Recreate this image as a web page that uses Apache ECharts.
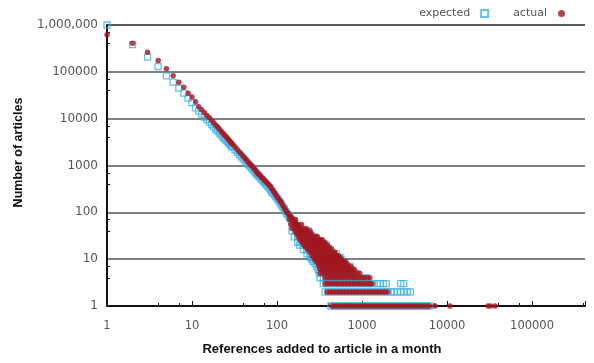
<!DOCTYPE html>
<html>
  <head>
    <meta charset="UTF-8" />
    <title>References added to article in a month</title>
    <script src="https://cdn.jsdelivr.net/npm/echarts@6.0.0/dist/echarts.min.js"></script>
    <style>
      html, body { margin: 0; padding: 0; background: #fff; }
      #main { width: 594px; height: 363px; }
    </style>
  </head>
  <body>
    <div id="main"></div>
    <script>
      // tick labels
      const xTickLabels = ['1', '10', '100', '1000', '10000', '100000']
      const yTickLabels = ['1', '10', '100', '1000', '10000', '100000', '1,000,000']

      // main diagonal, [references, articles]
      const expectedCurve = [
        [1, 1000000], [2, 380000], [3, 206000], [4, 130000], [5, 82000], [6, 60000],
        [7, 45000], [8, 35000], [9, 27500], [10, 22000], [11, 17000], [12, 14500],
        [13, 12500], [14, 10800], [15, 9500], [16, 8400], [17, 7500], [18, 6700],
        [19, 6000], [20, 5400], [21, 4900], [22, 4500], [23, 4100], [24, 3800],
        [25, 3500], [26, 3250], [27, 3000], [28, 2800], [29, 2600], [30, 2450],
        [32, 2150], [34, 1900], [36, 1700], [38, 1530], [40, 1380], [42, 1260],
        [44, 1140], [46, 1040], [48, 960], [50, 880], [52, 820], [54, 760],
        [56, 700], [58, 650], [60, 610], [62, 570], [65, 520], [67, 490],
        [70, 450], [72, 420], [75, 385], [78, 360], [81, 335], [84, 300],
        [87, 275], [90, 255], [94, 235], [97, 215], [101, 195], [105, 175],
        [109, 160], [113, 145], [117, 130], [122, 118], [126, 105], [131, 95],
        [135, 88], [140, 80], [145, 74], [150, 68], [155, 63], [160, 58],
        [166, 53], [172, 49], [178, 45], [185, 41], [192, 38], [200, 35],
        [207, 32], [215, 29]
      ]
      const actualCurve = [
        [1, 620000], [2, 410000], [3, 263000], [4, 174000], [5, 116000], [6, 82000],
        [7, 60000], [8, 47000], [9, 35000], [10, 29000], [11, 23000], [12, 18000],
        [13, 15500], [14, 13300], [15, 11700], [16, 10400], [17, 9200], [18, 8200],
        [19, 7300], [20, 6600], [21, 6000], [22, 5400], [23, 4950], [24, 4500],
        [25, 4150], [26, 3850], [27, 3550], [28, 3300], [29, 3050], [30, 2850],
        [32, 2500], [34, 2200], [36, 1950], [38, 1750], [40, 1580], [42, 1430],
        [44, 1290], [46, 1180], [48, 1080], [50, 1000], [52, 920], [54, 850],
        [56, 780], [58, 720], [60, 670], [62, 630], [65, 575], [67, 540],
        [70, 500], [72, 470], [75, 440], [78, 410], [81, 380], [84, 350],
        [87, 315], [90, 288], [94, 260], [97, 235], [101, 210], [105, 190],
        [109, 175], [113, 160], [117, 140], [122, 125], [126, 112], [131, 100],
        [135, 93], [140, 86], [145, 80], [150, 74], [155, 68], [160, 63],
        [166, 58], [172, 53], [178, 49], [185, 45], [192, 41], [200, 38],
        [207, 35], [215, 32]
      ]

      // scattered tail: article counts and the reference counts seen at each
      const expectedTailCounts = [40, 30, 23, 20, 16, 13, 11, 10, 9, 8, 7, 6, 5, 4, 3, 2, 1]
      const expectedTailX = [
        [150, 165, 180, 197, 215, 235],
        [160, 175, 192, 210, 230, 252, 276],
        [175, 192, 210, 230, 252, 276, 302, 330],
        [185, 203, 222, 243, 266, 291, 318, 348, 380],
        [205, 224, 245, 268, 293, 320, 350, 383, 419],
        [225, 246, 269, 294, 321, 351, 384, 420, 459, 502],
        [245, 268, 293, 320, 350, 383, 419, 458, 500, 547],
        [255, 279, 305, 333, 364, 398, 435, 476, 520, 569],
        [265, 290, 317, 346, 378, 413, 452, 494, 540, 590],
        [280, 306, 334, 365, 399, 436, 477, 521, 570, 623],
        [295, 322, 352, 385, 421, 460, 503, 550, 601, 657, 718],
        [305, 333, 364, 398, 435, 476, 520, 568, 621, 679, 742],
        [315, 344, 376, 411, 449, 491, 537, 587, 642, 702, 767, 838],
        [321, 351, 384, 420, 459, 502, 549, 600, 656, 717, 784, 857, 937, 1024, 1119],
        [350, 383, 419, 458, 501, 548, 599, 655, 716, 783, 856, 936, 1023, 1118, 1222,
          1336, 1520, 1640, 1780, 1930, 2850, 3100],
        [367, 401, 438, 479, 524, 573, 626, 684, 748, 818, 894, 977, 1068, 1168, 1277,
          1396, 1526, 1668, 1823, 1993, 2179, 2382, 2604, 2847, 3112, 3402, 3719],
        [430, 470, 514, 562, 614, 671, 734, 802, 877, 959, 1048, 1146, 1253, 1370, 1497,
          1637, 1790, 1957, 2139, 2339, 2557, 2795, 3056, 3341, 3652, 3993, 4365, 4772,
          5217, 5703, 6235]
      ]
      const actualTailCounts = [70, 55, 45, 40, 35, 30, 26, 23, 20, 18, 16, 14, 12, 11, 10, 9, 8, 7, 6, 5, 4, 3, 2, 1]
      const actualTailX = [
        [140, 152, 165],
        [145, 160, 178, 195],
        [150, 165, 182, 200, 220],
        [163, 175, 188, 200, 214, 229, 245],
        [170, 182, 195, 209, 224, 240, 257],
        [177, 190, 204, 219, 235, 252, 270, 290, 300],
        [186, 200, 215, 231, 248, 266, 285, 305, 325, 340],
        [196, 211, 227, 244, 262, 281, 301, 322, 345, 367],
        [207, 222, 238, 256, 275, 295, 317, 340, 365, 390],
        [218, 234, 252, 270, 290, 312, 335, 360, 388, 415],
        [230, 247, 265, 285, 306, 329, 353, 380, 408, 440],
        [245, 263, 283, 304, 326, 350, 376, 404, 434, 466, 481],
        [258, 277, 298, 320, 344, 369, 396, 426, 458, 492, 520],
        [271, 291, 313, 336, 361, 388, 417, 448, 481, 517, 551],
        [280, 301, 323, 347, 373, 401, 431, 463, 497, 534, 574],
        [288, 310, 333, 358, 385, 413, 444, 477, 512, 550, 591, 631],
        [305, 328, 352, 378, 406, 436, 468, 503, 540, 580, 623, 670],
        [313, 336, 361, 388, 417, 448, 481, 517, 555, 596, 640, 688, 739],
        [321, 345, 371, 398, 428, 459, 493, 530, 569, 611, 656, 705, 757, 813],
        [321, 345, 371, 398, 428, 459, 493, 530, 569, 611, 656, 705, 757, 813, 873, 938],
        [367, 394, 423, 455, 488, 524, 563, 605, 650, 698, 750, 805, 865, 929, 998,
          1072, 1151, 1236],
        [367, 394, 423, 455, 488, 524, 563, 605, 650, 698, 750, 805, 865, 929, 998,
          1072, 1151, 1236, 1312],
        [386, 415, 446, 479, 514, 552, 593, 637, 684, 735, 789, 848, 911, 978, 1050,
          1128, 1212, 1302, 1398, 1502, 1613, 1732, 1860, 1998],
        [443, 476, 511, 549, 590, 634, 681, 731, 785, 843, 906, 973, 1045, 1122, 1205,
          1295, 1391, 1494, 1604, 1723, 1851, 1988, 2135, 2293, 2463, 2646, 2842, 3052,
          3278, 3521, 3782, 4062, 4363, 4686, 5033, 5406, 5807, 6237, 7230, 10850,
          30350, 32600, 36700]
      ]

      function buildPoints(curve, counts, rows) {
        let pts = curve.slice()
        counts.forEach((c, i) => {
          rows[i].forEach((x) => pts.push([x, c]))
        })
        return pts
      }

      function decadeLabel(labels) {
        return (v) => labels[Math.round(Math.log10(v))] || ''
      }

      const labelFont = 'DejaVu Sans'
      const nameFont = 'Liberation Sans'

      const myChart = echarts.init(document.getElementById('main'), null, { renderer: 'canvas' })
      myChart.setOption({
        animation: false,
        backgroundColor: '#fff',
        legend: {
          data: ['expected', 'actual'],
          right: 24,
          top: 3,
          align: 'right',
          itemWidth: 7,
          itemHeight: 7,
          itemGap: 24,
          textStyle: { fontFamily: labelFont, fontSize: 11, color: '#555', padding: [0, 6, 0, 0] },
        },
        grid: { left: 107, right: 9, top: 25, bottom: 57, outerBoundsMode: 'none' },
        xAxis: {
          type: 'log',
          logBase: 10,
          min: 1,
          max: 420000,
          name: 'References added to article in a month',
          nameLocation: 'middle',
          nameGap: 37,
          nameTextStyle: { fontFamily: nameFont, fontWeight: 'bold', fontSize: 13, color: '#111', padding: [0, 48, 0, 0] },
          axisLine: { lineStyle: { color: '#111', width: 2 } },
          axisTick: { inside: true, length: 5, lineStyle: { color: '#111', width: 1 } },
          minorTick: { show: true, splitNumber: 3, length: 3, lineStyle: { color: '#111' } },
          axisLabel: {
            margin: 14,
            fontFamily: labelFont,
            fontSize: 11.5,
            color: '#555',
            showMaxLabel: false,
            formatter: decadeLabel(xTickLabels),
          },
          splitLine: { show: false },
        },
        yAxis: {
          type: 'log',
          logBase: 10,
          min: 1,
          max: 1000000,
          name: 'Number of articles',
          nameLocation: 'middle',
          nameRotate: 90,
          nameGap: 82,
          nameTextStyle: { fontFamily: nameFont, fontWeight: 'bold', fontSize: 12.5, color: '#111', padding: [0, 0, 0, 26] },
          axisLine: { show: true, lineStyle: { color: '#111', width: 2 } },
          axisTick: { show: true, inside: true, length: 1, lineStyle: { color: '#111' } },
          minorTick: { show: true, splitNumber: 3, length: 3, lineStyle: { color: '#111' } },
          axisLabel: {
            margin: 9,
            fontFamily: labelFont,
            fontSize: 12,
            color: '#555',
            formatter: decadeLabel(yTickLabels),
          },
          splitLine: {
            show: true,
            lineStyle: { color: ['#222', '#555', '#555', '#555', '#555', '#555', '#222'], width: 1.6 },
          },
        },
        series: [
          {
            name: 'expected',
            type: 'scatter',
            symbol: 'rect',
            symbolSize: 6,
            clip: false,
            itemStyle: { color: 'rgba(255,255,255,0)', borderColor: '#3fb3e4', borderWidth: 1.3 },
            data: buildPoints(expectedCurve, expectedTailCounts, expectedTailX),
          },
          {
            name: 'actual',
            type: 'scatter',
            symbol: 'circle',
            symbolSize: 5.5,
            clip: false,
            itemStyle: { color: '#a3161f' },
            data: buildPoints(actualCurve, actualTailCounts, actualTailX),
          },
        ],
      })
    </script>
  </body>
</html>
